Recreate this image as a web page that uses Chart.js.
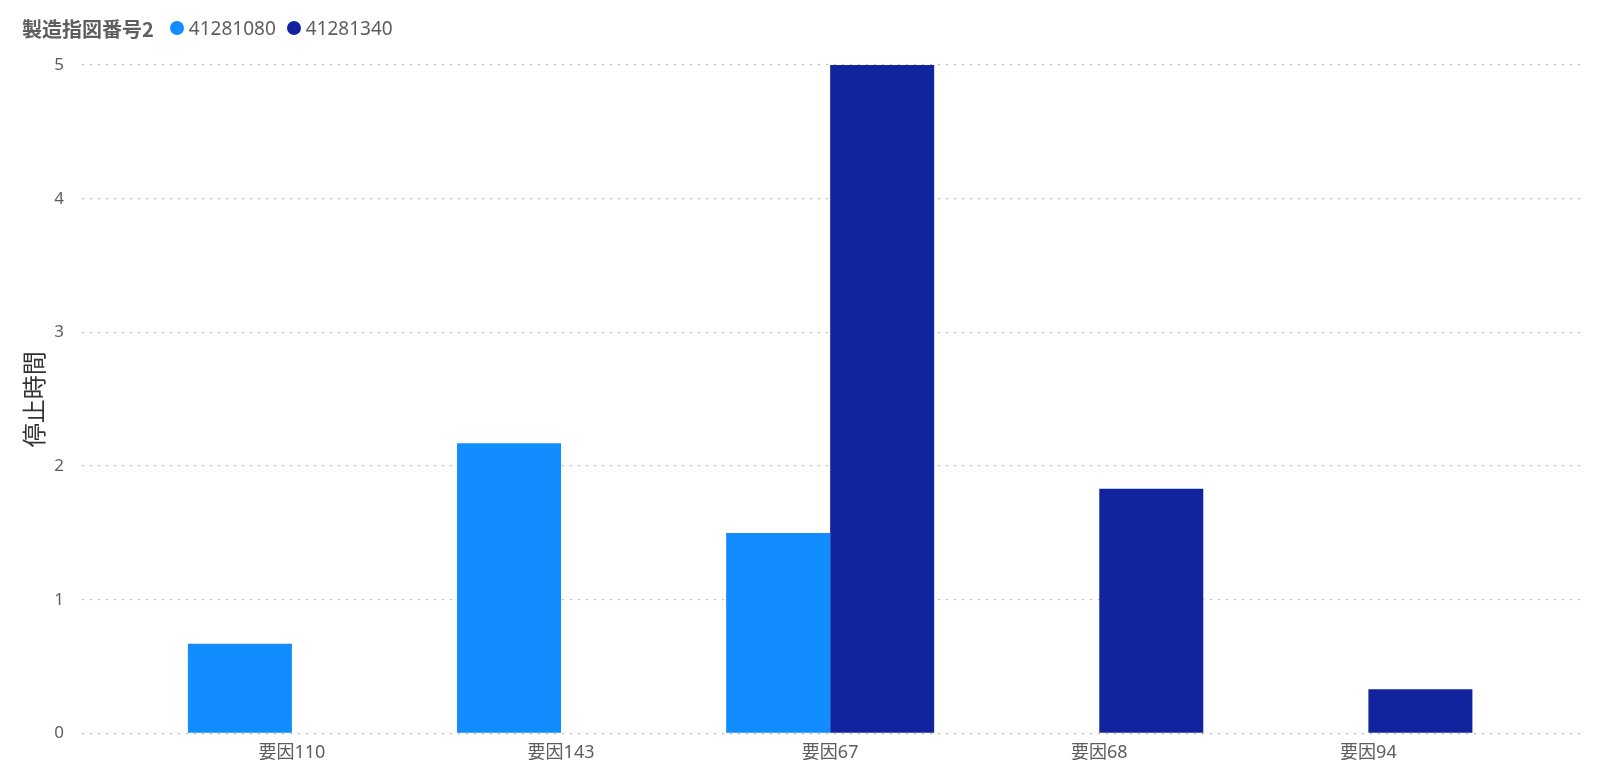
<!DOCTYPE html>
<html>
<head>
<meta charset="utf-8">
<script src="https://cdn.jsdelivr.net/npm/chart.js@4"></script>
<style>
  html, body { margin: 0; padding: 0; background: #fff; }
  #wrap { position: relative; width: 1617px; height: 780px; }
  #legend {
    position: absolute; left: 22px; top: 13px; height: 30px;
    display: flex; align-items: center;
    font-family: "Noto Sans", "Noto Sans CJK JP", sans-serif;
    color: #605E5C; font-size: 19px;
  }
  #legend .title { font-weight: bold; font-size: 20px; color: #605E5C; margin-right: 16px;
    font-family: "Noto Sans CJK JP", sans-serif; }
  #legend .item { display: flex; align-items: center; margin-right: 11px; }
  #legend .dot { width: 14px; height: 14px; border-radius: 50%; margin-right: 5px; }
</style>
</head>
<body>
<div id="wrap">
  <div id="legend"></div>
  <canvas id="chart" width="1617" height="780"></canvas>
</div>
<script>
// data
const legendTitle = '製造指図番号2';
const categories = ['要因110', '要因143', '要因67', '要因68', '要因94'];
const seriesNames = ['41281080', '41281340'];
const series1 = [0.67, 2.17, 1.5, null, null];
const series2 = [null, null, 5, 1.83, 0.33];
const yTicks = [0, 1, 2, 3, 4, 5];
const colors = ['#118DFF', '#12239E'];

const tickFont = '"Segoe UI", "Noto Sans", "Noto Sans CJK JP", sans-serif';

function toPoints(arr) {
  return arr.map((v, i) => ({ x: i, y: v }));
}

const ctx = document.getElementById('chart').getContext('2d');
const chart = new Chart(ctx, {
  type: 'bar',
  data: {
    datasets: [
      {
        label: seriesNames[0],
        data: toPoints(series1),
        backgroundColor: colors[0],
        categoryPercentage: 0.773,
        barPercentage: 1.0
      },
      {
        label: seriesNames[1],
        data: toPoints(series2),
        backgroundColor: colors[1],
        categoryPercentage: 0.773,
        barPercentage: 1.0
      }
    ]
  },
  options: {
    responsive: false,
    animation: false,
    layout: { padding: { left: 19, top: 65, right: 36, bottom: 15 } },
    plugins: {
      legend: { display: false },
      tooltip: { enabled: false }
    },
    scales: {
      x: {
        type: 'linear',
        min: -0.78,
        max: 4.79,
        offset: false,
        grid: { display: false },
        border: { display: false },
        afterBuildTicks: axis => { axis.ticks = categories.map((c, i) => ({ value: i })); },
        ticks: {
          autoSkip: false,
          maxRotation: 0,
          padding: 1,
          color: '#605E5C',
          font: { family: tickFont, size: 18 },
          callback: v => categories[v]
        }
      },
      y: {
        min: 0,
        max: 5,
        afterBuildTicks: axis => { axis.ticks = yTicks.map(v => ({ value: v })); },
        afterFit: axis => { axis.width = 63; },
        border: { display: false, dash: [2, 6] },
        grid: {
          color: '#BEBCBA',
          lineWidth: 1.2,
          drawTicks: false
        },
        ticks: {
          padding: 18,
          color: '#605E5C',
          font: { family: tickFont, size: 17 }
        },
        title: {
          display: true,
          text: '停止時間',
          color: '#333333',
          padding: { top: 0, bottom: 0 },
          font: { family: '"Noto Sans CJK JP", sans-serif', size: 24 }
        }
      }
    }
  }
});

// html legend built from the chart datasets
const legendEl = document.getElementById('legend');
const t = document.createElement('span');
t.className = 'title';
t.textContent = legendTitle;
legendEl.appendChild(t);
chart.data.datasets.forEach(ds => {
  const item = document.createElement('span');
  item.className = 'item';
  const dot = document.createElement('span');
  dot.className = 'dot';
  dot.style.background = ds.backgroundColor;
  const txt = document.createElement('span');
  txt.textContent = ds.label;
  item.appendChild(dot);
  item.appendChild(txt);
  legendEl.appendChild(item);
});
</script>
</body>
</html>
